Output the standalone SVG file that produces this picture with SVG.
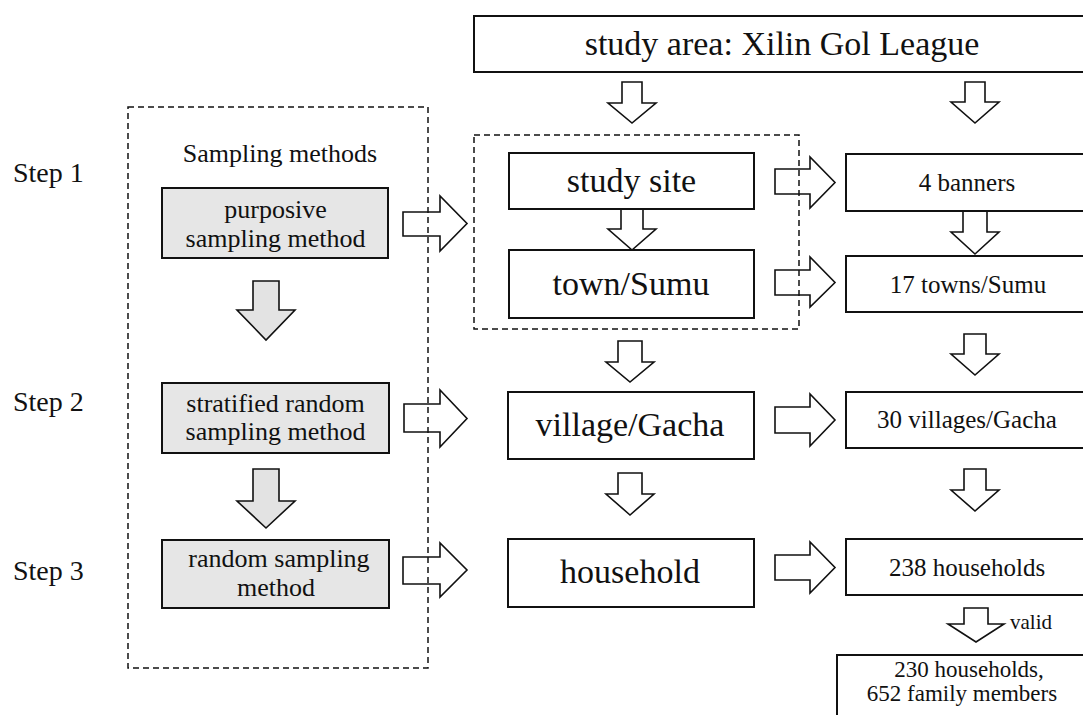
<svg xmlns="http://www.w3.org/2000/svg" width="1083" height="715" viewBox="0 0 1083 715">
<style>
.box{fill:#fff;stroke:#111;stroke-width:2}
.gbox{fill:#e6e6e6;stroke:#111;stroke-width:2}
.dash{fill:none;stroke:#111;stroke-width:1.5;stroke-dasharray:6 4}
.arr{fill:#fff;stroke:#111;stroke-width:1.6;stroke-linejoin:miter}
.garr{fill:#e3e3e3;stroke:#111;stroke-width:1.6}
text{font-family:"Liberation Serif","Times New Roman",serif;fill:#111}
.big{font-size:34px;text-anchor:middle}
.mid{font-size:25px;text-anchor:middle}
.fin{font-size:23px;text-anchor:middle}
.lft{font-size:26px;text-anchor:middle}
.step{font-size:28px}
.small{font-size:21px}
</style>
<rect width="1083" height="715" fill="#fff"/>

<g id="connectors">
<polygon class="arr" points="622,82 642,82 642,103 656,103 632,123 608,103 622,103"/>
<polygon class="arr" points="965,82 985,82 985,102 999,102 975,123 951,102 965,102"/>
<polygon class="arr" points="621,209 643,209 643,229 656,229 632,250 608,229 621,229"/>
<polygon class="arr" points="963,211 987,211 987,232 999,232 975,254 951,232 963,232"/>
<polygon class="arr" points="618,341 642,341 642,362 654,362 630,382 606,362 618,362"/>
<polygon class="arr" points="964,334 986,334 986,354 999,354 975,375 951,354 964,354"/>
<polygon class="arr" points="618,473 642,473 642,494 654,494 630,515 606,494 618,494"/>
<polygon class="arr" points="964,469 986,469 986,490 999,490 975,511 951,490 964,490"/>
<polygon class="arr" points="964,608 988,608 988,624 1004,624 976,642 948,624 964,624"/>
<polygon class="garr" points="253,281 279,281 279,310 295,310 266,340 237,310 253,310"/>
<polygon class="garr" points="253,469 279,469 279,501 295,501 266,528 237,501 253,501"/>
<polygon class="arr" points="403,212 440,212 440,196 467,223.5 440,251 440,236 403,236"/>
<polygon class="arr" points="404,404 440,404 440,390 467,418.5 440,447 440,432 404,432"/>
<polygon class="arr" points="403,557 440,557 440,543 467,570 440,597 440,584 403,584"/>
<polygon class="arr" points="775,169 810,169 810,157 835,182.5 810,208 810,194 775,194"/>
<polygon class="arr" points="775,270 810,270 810,257 835,282.5 810,307 810,295 775,295"/>
<polygon class="arr" points="775,407 810,407 810,394 835,420 810,446 810,433 775,433"/>
<polygon class="arr" points="775,555 810,555 810,542 835,567.5 810,593 810,580 775,580"/>
</g>

<g id="sampling-methods-group">
<rect class="dash" x="128" y="107" width="300" height="561"/>
<text class="lft" x="280" y="162">Sampling methods</text>
</g>
<g id="site-group">
<rect class="dash" x="474" y="135" width="325" height="194"/>
</g>

<g id="step1"><text class="step" x="13" y="182">Step 1</text></g>
<g id="step2"><text class="step" x="13" y="411">Step 2</text></g>
<g id="step3"><text class="step" x="13" y="580">Step 3</text></g>

<g id="purposive">
<rect class="gbox" x="162" y="188" width="226" height="70"/>
<text class="lft" x="275.5" y="218">purposive</text>
<text class="lft" x="275.5" y="247">sampling method</text>
</g>
<g id="stratified">
<rect class="gbox" x="162" y="383" width="227" height="70"/>
<text class="lft" x="275.5" y="412">stratified random</text>
<text class="lft" x="275.5" y="440">sampling method</text>
</g>
<g id="random">
<rect class="gbox" x="162" y="540" width="227" height="68"/>
<text class="lft" x="279" y="567">random sampling</text>
<text class="lft" x="276" y="596">method</text>
</g>

<g id="study-area">
<rect class="box" x="474" y="16" width="620" height="56"/>
<text class="big" x="782" y="55">study area: Xilin Gol League</text>
</g>
<g id="study-site">
<rect class="box" x="509" y="153" width="245" height="56"/>
<text class="big" x="631.5" y="192">study site</text>
</g>
<g id="town">
<rect class="box" x="509" y="250" width="245" height="68"/>
<text class="big" x="631" y="295">town/Sumu</text>
</g>
<g id="village">
<rect class="box" x="508" y="392" width="246" height="67"/>
<text class="big" x="630" y="436">village/Gacha</text>
</g>
<g id="household">
<rect class="box" x="508" y="539" width="246" height="68"/>
<text class="big" x="630" y="583">household</text>
</g>

<g id="banners">
<rect class="box" x="846" y="154" width="250" height="57"/>
<text class="mid" x="967" y="191">4 banners</text>
</g>
<g id="towns">
<rect class="box" x="846" y="256" width="250" height="56"/>
<text class="mid" x="968" y="293">17 towns/Sumu</text>
</g>
<g id="villages">
<rect class="box" x="846" y="392" width="250" height="56"/>
<text class="mid" x="967" y="428">30 villages/Gacha</text>
</g>
<g id="households238">
<rect class="box" x="846" y="539" width="250" height="56"/>
<text class="mid" x="967" y="576">238 households</text>
</g>
<g id="valid-label"><text class="small" x="1010" y="629">valid</text></g>
<g id="households230">
<rect class="box" x="837" y="655" width="260" height="80"/>
<text class="fin" x="969" y="677">230 households,</text>
<text class="fin" x="962" y="701">652 family members</text>
</g>
</svg>
